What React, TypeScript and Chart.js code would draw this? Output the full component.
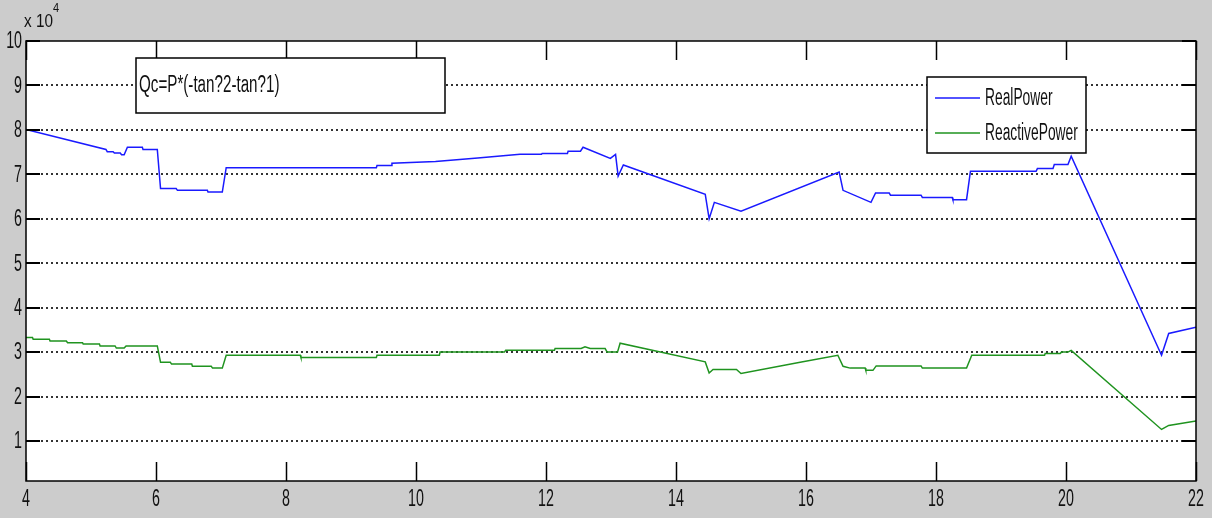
import React, { useEffect, useRef } from "react";
import { Chart, registerables } from "chart.js";

Chart.register(...registerables);

// ---- data (values in units of 10^4) ----
const realX = [4.0, 5.23, 5.25, 5.34, 5.36, 5.45, 5.47, 5.51, 5.56, 5.79, 5.8, 6.02, 6.07, 6.31, 6.33, 6.79, 6.8, 7.02, 7.08, 9.39, 9.4, 9.62, 9.63, 10.3, 10.95, 11.6, 11.93, 11.94, 12.33, 12.34, 12.53, 12.57, 12.99, 13.07, 13.11, 13.19, 14.45, 14.51, 14.59, 15.0, 16.51, 16.57, 17.0, 17.07, 17.28, 17.3, 17.77, 17.79, 18.25, 18.26, 18.47, 18.53, 19.54, 19.56, 19.8, 19.82, 20.03, 20.08, 21.47, 21.58, 22.0];
const realY = [8.01, 7.56, 7.51, 7.51, 7.48, 7.48, 7.44, 7.44, 7.61, 7.61, 7.56, 7.56, 6.68, 6.68, 6.64, 6.64, 6.6, 6.6, 7.15, 7.15, 7.2, 7.2, 7.25, 7.29, 7.37, 7.45, 7.45, 7.47, 7.47, 7.52, 7.52, 7.61, 7.36, 7.45, 6.96, 7.21, 6.55, 6.0, 6.37, 6.17, 7.05, 6.64, 6.37, 6.58, 6.58, 6.53, 6.53, 6.48, 6.48, 6.43, 6.43, 7.07, 7.07, 7.13, 7.13, 7.22, 7.22, 7.41, 2.93, 3.42, 3.56];

const reactX = [4.0, 4.1, 4.11, 4.36, 4.37, 4.62, 4.64, 4.87, 4.88, 5.13, 5.14, 5.37, 5.39, 5.51, 5.54, 6.02, 6.07, 6.22, 6.24, 6.55, 6.56, 6.85, 6.87, 7.02, 7.08, 8.22, 8.23, 9.39, 9.4, 10.36, 10.37, 11.36, 11.38, 12.13, 12.14, 12.54, 12.6, 12.68, 12.91, 12.94, 13.1, 13.14, 14.45, 14.51, 14.57, 14.93, 15.0, 15.91, 16.49, 16.57, 16.68, 16.91, 16.92, 17.03, 17.08, 17.77, 17.79, 18.47, 18.55, 19.67, 19.68, 19.91, 19.93, 20.03, 20.08, 21.47, 21.58, 22.0];
const reactY = [3.33, 3.33, 3.29, 3.29, 3.25, 3.25, 3.21, 3.21, 3.18, 3.18, 3.14, 3.14, 3.09, 3.09, 3.14, 3.14, 2.77, 2.77, 2.73, 2.73, 2.68, 2.68, 2.64, 2.64, 2.93, 2.93, 2.88, 2.88, 2.93, 2.93, 3.0, 3.0, 3.04, 3.04, 3.08, 3.08, 3.12, 3.08, 3.08, 3.0, 3.0, 3.2, 2.78, 2.53, 2.61, 2.61, 2.52, 2.77, 2.93, 2.68, 2.64, 2.64, 2.59, 2.59, 2.69, 2.69, 2.64, 2.64, 2.93, 2.93, 2.97, 2.97, 3.0, 3.0, 3.04, 1.26, 1.35, 1.45];

const seriesLabels = ["RealPower", "ReactivePower"];
const seriesColors = ["#1a1aff", "#1f931f"];
const xTicks = [4, 6, 8, 10, 12, 14, 16, 18, 20, 22];
const yTicks = [1, 2, 3, 4, 5, 6, 7, 8, 9, 10];
const annotationText = "Qc=P*(-tan?2-tan?1)";
const exponentBase = "x 10";
const exponentPower = "4";

const FONT = '"Liberation Sans", Arial, Helvetica, sans-serif';

function condText(
  ctx: CanvasRenderingContext2D,
  text: string,
  x: number,
  y: number,
  size: number,
  sx: number,
  align: CanvasTextAlign
) {
  ctx.save();
  ctx.font = `${size}px ${FONT}`;
  ctx.textBaseline = "middle";
  ctx.textAlign = align;
  ctx.fillStyle = "#111";
  ctx.translate(x, y);
  ctx.scale(sx, 1);
  ctx.fillText(text, 0, 0);
  ctx.restore();
}

const matlabPlugin = {
  id: "matlabLook",
  beforeDraw(chart: any) {
    const { ctx, chartArea: a, width, height } = chart;
    ctx.save();
    ctx.fillStyle = "#cccccc";
    ctx.fillRect(0, 0, width, height);
    ctx.fillStyle = "#ffffff";
    ctx.fillRect(a.left, a.top, a.right - a.left, a.bottom - a.top);
    ctx.restore();
  },
  beforeDatasetsDraw(chart: any) {
    const { ctx, chartArea: a, scales } = chart;
    const ys = scales.y;
    ctx.save();
    ctx.strokeStyle = "#333";
    ctx.lineWidth = 2;
    ctx.setLineDash([2, 3]);
    for (const v of yTicks) {
      if (v >= ys.max) continue;
      const py = Math.round(ys.getPixelForValue(v));
      ctx.beginPath();
      ctx.moveTo(a.left, py);
      ctx.lineTo(a.right, py);
      ctx.stroke();
    }
    ctx.restore();
  },
  afterDatasetsDraw(chart: any) {
    const { ctx, chartArea: a, scales } = chart;
    const xs = scales.x;
    const ys = scales.y;
    ctx.save();
    ctx.strokeStyle = "#000";
    ctx.lineWidth = 1.5;
    ctx.setLineDash([]);
    // frame
    ctx.strokeRect(a.left, a.top, a.right - a.left, a.bottom - a.top);
    // x ticks (inside, top and bottom)
    const xt = 19;
    for (const v of xTicks) {
      const px = Math.round(xs.getPixelForValue(v)) + 0.5;
      ctx.beginPath();
      ctx.moveTo(px, a.bottom);
      ctx.lineTo(px, a.bottom - xt);
      ctx.moveTo(px, a.top);
      ctx.lineTo(px, a.top + xt);
      ctx.stroke();
    }
    // y ticks (inside, left and right)
    const yt = 14;
    ctx.lineWidth = 2;
    for (const v of yTicks) {
      const py = Math.round(ys.getPixelForValue(v));
      ctx.beginPath();
      ctx.moveTo(a.left, py);
      ctx.lineTo(a.left + yt, py);
      ctx.moveTo(a.right, py);
      ctx.lineTo(a.right - yt, py);
      ctx.stroke();
    }
    ctx.restore();

    // tick labels
    for (const v of xTicks) {
      condText(ctx, String(v), xs.getPixelForValue(v), a.bottom + 19, 23, 0.62, "center");
    }
    for (const v of yTicks) {
      condText(ctx, String(v), a.left - 4, ys.getPixelForValue(v) + 1, 23, 0.62, "right");
    }
    // exponent label
    condText(ctx, exponentBase, a.left - 2, 22, 18, 0.85, "left");
    condText(ctx, exponentPower, a.left + 27, 8, 13, 0.85, "left");

    // annotation box
    ctx.save();
    ctx.fillStyle = "#fff";
    ctx.fillRect(136, 58, 309, 55);
    ctx.strokeStyle = "#000";
    ctx.lineWidth = 1.5;
    ctx.strokeRect(136, 58, 309, 55);
    ctx.restore();
    condText(ctx, annotationText, 139, 86, 23, 0.66, "left");

    // legend
    ctx.save();
    ctx.fillStyle = "#fff";
    ctx.fillRect(927, 77, 159, 76);
    ctx.strokeStyle = "#000";
    ctx.lineWidth = 1.5;
    ctx.strokeRect(927, 77, 159, 76);
    const rows = [98, 133];
    chart.data.datasets.forEach((ds: any, i: number) => {
      ctx.strokeStyle = ds.borderColor;
      ctx.lineWidth = 1.5;
      ctx.beginPath();
      ctx.moveTo(935, rows[i]);
      ctx.lineTo(980, rows[i]);
      ctx.stroke();
    });
    ctx.restore();
    chart.data.datasets.forEach((ds: any, i: number) => {
      condText(ctx, ds.label, 985, rows[i] + 1, 23, 0.6, "left");
    });
  },
};

export default function App() {
  const ref = useRef<HTMLCanvasElement | null>(null);

  useEffect(() => {
    if (!ref.current) return;
    const chart = new Chart(ref.current, {
      type: "line",
      data: {
        datasets: [
          {
            label: seriesLabels[0],
            data: realX.map((x, i) => ({ x, y: realY[i] })),
            borderColor: seriesColors[0],
            backgroundColor: seriesColors[0],
            borderWidth: 1.5,
            pointRadius: 0,
            tension: 0,
            fill: false,
          },
          {
            label: seriesLabels[1],
            data: reactX.map((x, i) => ({ x, y: reactY[i] })),
            borderColor: seriesColors[1],
            backgroundColor: seriesColors[1],
            borderWidth: 1.5,
            pointRadius: 0,
            tension: 0,
            fill: false,
          },
        ],
      },
      options: {
        animation: false,
        responsive: false,
        devicePixelRatio: 1,
        layout: { padding: { left: 26, top: 41, right: 16, bottom: 37 } },
        plugins: { legend: { display: false }, tooltip: { enabled: false }, title: { display: false } },
        scales: {
          x: { type: "linear", min: 4, max: 22, display: false },
          y: { type: "linear", min: 0.1, max: 10, display: false },
        },
      },
      plugins: [matlabPlugin],
    } as any);
    return () => chart.destroy();
  }, []);

  return (
    <div style={{ position: "fixed", left: 0, top: 0, width: 1212, height: 518, background: "#cccccc" }}>
      <canvas ref={ref} width={1212} height={518} style={{ display: "block", width: 1212, height: 518 }} />
    </div>
  );
}
